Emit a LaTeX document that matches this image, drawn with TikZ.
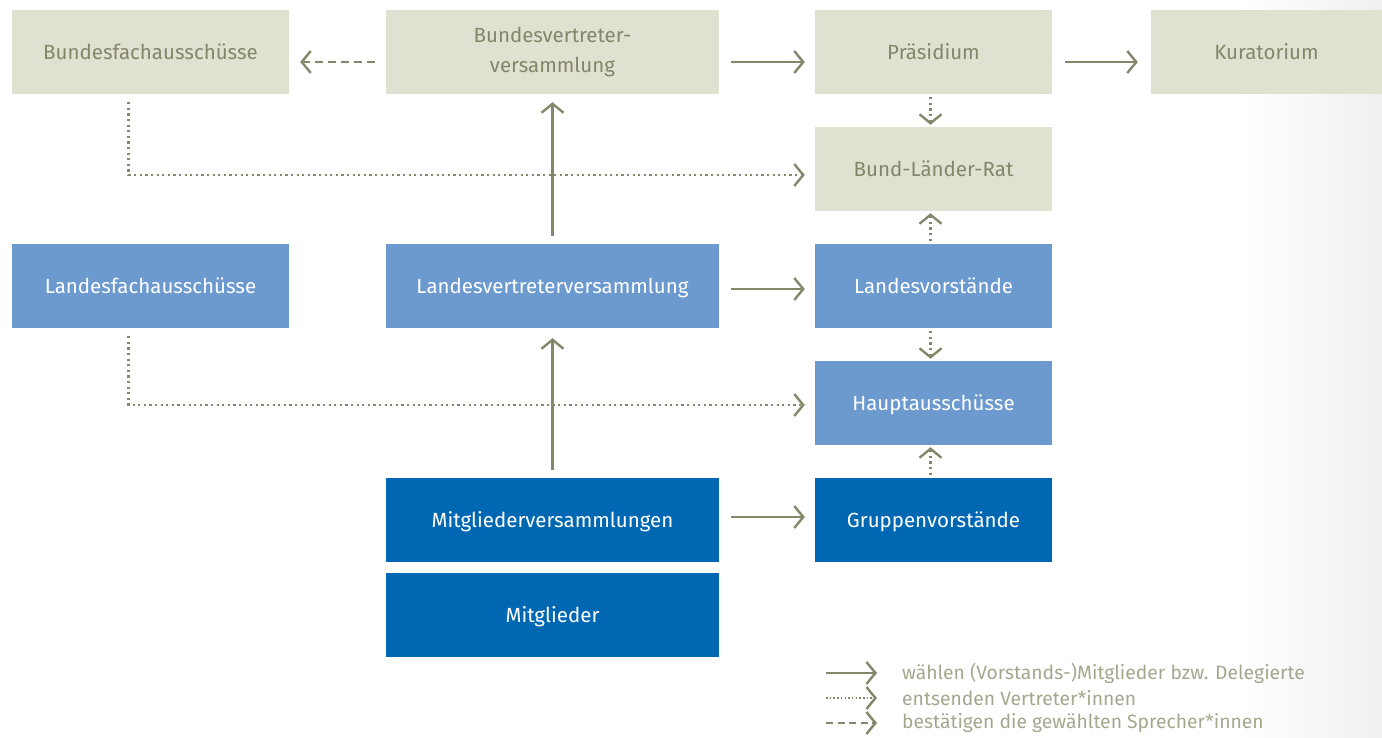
\documentclass[tikz,border=0pt]{standalone}
\usepackage{fontspec}
\setmainfont{Fira Sans}
\usetikzlibrary{arrows.meta}
\definecolor{beige}{HTML}{E1E1D2}
\definecolor{beigetext}{HTML}{85856A}
\definecolor{lblue}{HTML}{6C9ACF}
\definecolor{dblue}{HTML}{0067B2}
\definecolor{arr}{HTML}{86866A}
\definecolor{legtext}{HTML}{A6A68E}
\tikzset{
  x=1pt, y=-1pt,
  box/.style={draw=none, minimum height=84pt, inner sep=0pt, align=center, font=\fontsize{20.5}{30}\selectfont},
  one/.style={text height=18pt, text depth=3.4pt},
  bbox/.style={box, fill=beige, text=beigetext},
  lbox/.style={box, one, fill=lblue, text=white},
  dbox/.style={box, one, fill=dblue, text=white},
  conn/.style={draw=arr, line width=2.4pt, -{Straight Barb[length=9pt,width=22pt,line width=2.4pt]}},
  solidc/.style={conn},
  dotc/.style={conn, dash pattern=on 2.2pt off 3.4pt},
  dashc/.style={conn, dash pattern=on 8pt off 5pt},
}
\begin{document}
\begin{tikzpicture}
\useasboundingbox (0,0) rectangle (1382,738);
\shade[left color=white, right color=black!6] (1240,0) rectangle (1382,738);
% top row
\node[bbox, one, minimum width=277pt] (bfa) at (150.5,52) {Bundesfachausschüsse};
\node[bbox, minimum width=333pt] (bvv) at (552.5,52) {Bundesvertreter-\\versammlung};
\node[bbox, one, minimum width=237pt] (pra) at (933.5,52) {Präsidium};
\node[bbox, one, minimum width=231pt] (kur) at (1266.5,52) {Kuratorium};
\node[bbox, one, minimum width=237pt] (blr) at (933.5,169) {Bund-Länder-Rat};
% middle
\node[lbox, minimum width=277pt] (lfa) at (150.5,286) {Landesfachausschüsse};
\node[lbox, minimum width=333pt] (lvv) at (552.5,286) {Landesvertreterversammlung};
\node[lbox, minimum width=237pt] (lvo) at (933.5,286) {Landesvorstände};
\node[lbox, minimum width=237pt] (hau) at (933.5,403) {Hauptausschüsse};
% bottom
\node[dbox, minimum width=333pt] (mvv) at (552.5,520) {Mitgliederversammlungen};
\node[dbox, minimum width=237pt] (gvo) at (933.5,520) {Gruppenvorstände};
\node[dbox, minimum width=333pt] (mit) at (552.5,615) {Mitglieder};
% horizontal connectors
\draw[dashc] ([xshift=-11pt,yshift=-10pt]bvv.west) -- ([xshift=11pt,yshift=-10pt]bfa.east);
\draw[solidc] ([xshift=12pt,yshift=-10pt]bvv.east) -- ([xshift=-10pt,yshift=-10pt]pra.west);
\draw[solidc] ([xshift=13pt,yshift=-10pt]pra.east) -- ([xshift=-13pt,yshift=-10pt]kur.west);
\draw[solidc] ([xshift=12pt,yshift=-3pt]lvv.east) -- ([xshift=-10pt,yshift=-3pt]lvo.west);
\draw[solidc] ([xshift=12pt,yshift=3pt]mvv.east) -- ([xshift=-10pt,yshift=3pt]gvo.west);
% vertical solid
\draw[solidc] ([yshift=8pt]lvv.north) -- ([yshift=-8pt]bvv.south);
\draw[solidc] ([yshift=8pt]mvv.north) -- ([yshift=-10pt]lvv.south);
% vertical dotted
\draw[dotc] ([xshift=-3pt,yshift=-3pt]pra.south) -- ([xshift=-3pt,yshift=2pt]blr.north);
\draw[dotc] ([xshift=-3pt,yshift=3pt]lvo.north) -- ([xshift=-3pt,yshift=-2pt]blr.south);
\draw[dotc] ([xshift=-3pt,yshift=-3pt]lvo.south) -- ([xshift=-3pt,yshift=2pt]hau.north);
\draw[dotc] ([xshift=-3pt,yshift=3pt]gvo.north) -- ([xshift=-3pt,yshift=-2pt]hau.south);
% elbow dotted
\coordinate (c1) at ([xshift=-22pt,yshift=-8pt]bfa.south);
\coordinate (c2) at ([xshift=-22pt,yshift=-8pt]lfa.south);
\draw[dotc] (c1) |- ([xshift=-10pt,yshift=-6pt]blr.west);
\draw[dotc] (c2) |- ([xshift=-10pt,yshift=-2pt]hau.west);
% legend
\coordinate (l1a) at (826,673); \coordinate (l1b) at (877,673);
\coordinate (l2a) at (826,698); \coordinate (l2b) at (877,698);
\coordinate (l3a) at (826,723); \coordinate (l3b) at (877,723);
\draw[solidc, line width=2pt] (l1a) -- (l1b);
\draw[dotc, line width=1.6pt, dash pattern=on 1.5pt off 2.2pt] (l2a) -- (l2b);
\draw[dashc, line width=2pt, dash pattern=on 7pt off 4.5pt] (l3a) -- (l3b);
\node[anchor=west, text=legtext, font=\fontsize{19.3}{22}\selectfont, inner sep=0pt] (t1) at (902,673) {wählen (Vorstands-)Mitglieder bzw. Delegierte};
\node[anchor=west, text=legtext, font=\fontsize{19.3}{22}\selectfont, inner sep=0pt] (t2) at (902,698) {entsenden Vertreter*innen};
\node[anchor=west, text=legtext, font=\fontsize{19.3}{22}\selectfont, inner sep=0pt] (t3) at (902,723) {bestätigen die gewählten Sprecher*innen};
\end{tikzpicture}
\end{document}
